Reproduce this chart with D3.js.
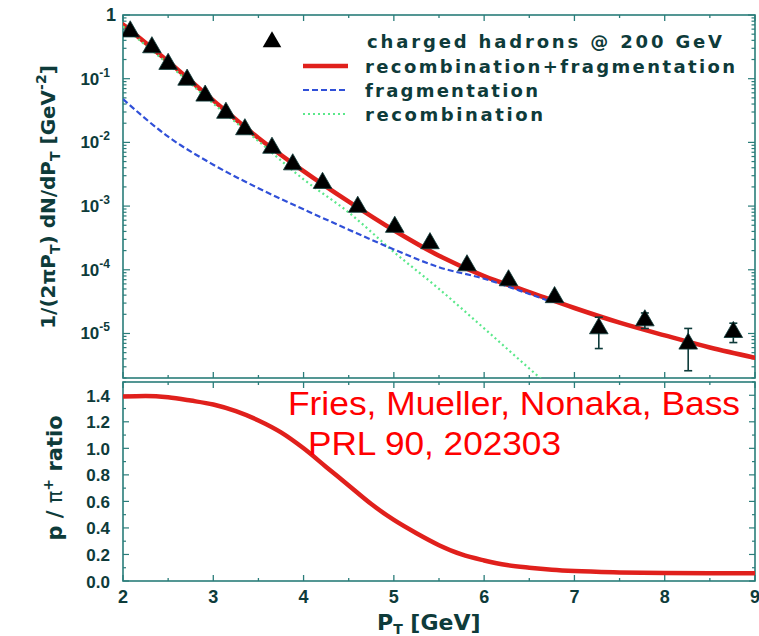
<!DOCTYPE html>
<html>
<head>
<meta charset="utf-8">
<script src="https://cdn.jsdelivr.net/npm/d3@7"></script>
<style>
  html, body { margin: 0; padding: 0; background: #fff; }
  svg { display: block; }
  text { font-family: "Liberation Sans", Arial, Helvetica, sans-serif; }
  .bold { font-family: "DejaVu Sans", "Liberation Sans", sans-serif; font-weight: bold; }
</style>
</head>
<body>
<svg id="chart" width="759" height="636"></svg>
<script>
// Charged hadron spectrum at 200 GeV (data points)
const dataPt   = [2.08, 2.32, 2.50, 2.71, 2.91, 3.14, 3.35, 3.65, 3.88, 4.21, 4.60, 5.01, 5.40, 5.81, 6.27, 6.78, 7.27, 7.78, 8.26, 8.76];
const dataY    = [0.55, 0.31, 0.17, 0.096, 0.054, 0.029, 0.016, 0.0082, 0.0045, 0.0023, 9.7e-4, 4.7e-4, 2.6e-4, 1.17e-4, 6.8e-5, 3.7e-5, 1.2e-5, 1.6e-5, 6.9e-6, 1.05e-5];
const dataErrLo = [null, null, null, null, null, null, null, null, null, null, null, null, null, null, null, null, 5.8e-6, 1.2e-5, 2.6e-6, 7.2e-6];
const dataErrHi = [null, null, null, null, null, null, null, null, null, null, null, null, null, null, null, null, 1.8e-5, 2.1e-5, 1.2e-5, 1.45e-5];

// Model curves (log10 of yield)
const curvePt    = [2.0, 2.5, 3.0, 3.5, 4.0, 4.5, 5.0, 5.5, 6.0, 6.5, 7.0, 7.5, 8.0, 8.5, 9.0];
const totalLog   = [-0.15, -0.73, -1.34, -1.93, -2.45, -2.93, -3.38, -3.78, -4.10, -4.35, -4.60, -4.83, -5.03, -5.22, -5.38];
const fragPt     = [2.0, 2.5, 3.0, 3.5, 4.0, 4.5, 5.0, 5.5, 6.0, 6.5, 6.7];
const fragLog    = [-1.32, -1.91, -2.35, -2.72, -3.05, -3.37, -3.68, -3.96, -4.14, -4.38, -4.48];
const recoPt     = [2.0, 2.5, 3.0, 3.5, 4.0, 4.5, 5.0, 5.5, 6.0, 6.5, 6.7];
const recoLog    = [-0.18, -0.77, -1.39, -1.98, -2.58, -3.10, -3.72, -4.30, -4.92, -5.55, -5.80];

// p / pi+ ratio
const ratioPt  = [2.0, 2.25, 2.5, 2.75, 3.0, 3.25, 3.5, 3.75, 4.0, 4.25, 4.5, 4.75, 5.0, 5.25, 5.5, 5.75, 6.0, 6.25, 6.5, 6.75, 7.0, 7.5, 8.0, 8.5, 9.0];
const ratioVal = [1.39, 1.395, 1.385, 1.36, 1.33, 1.28, 1.21, 1.12, 1.00, 0.86, 0.72, 0.58, 0.46, 0.36, 0.27, 0.20, 0.155, 0.12, 0.10, 0.085, 0.075, 0.065, 0.06, 0.058, 0.058];

// Ticks
const xTicks = [2, 3, 4, 5, 6, 7, 8, 9];
const logTickExp = [0, -1, -2, -3, -4, -5];
const ratioTicks = [0.0, 0.2, 0.4, 0.6, 0.8, 1.0, 1.2, 1.4];

const legendLabels = ["charged hadrons @ 200 GeV", "recombination+fragmentation", "fragmentation", "recombination"];

const AXIS = "#2a7d7a";
const INK = "#0e3b3a";
const RED = "#e0201c";
const BLUE = "#3050d8";
const GREEN = "#5ae88a";

const svg = d3.select("#chart");

const x = d3.scaleLinear().domain([2, 9]).range([123, 755]);
const yTop = d3.scaleLog().domain([2e-6, 1]).range([378, 15]);
const yBot = d3.scaleLinear().domain([0, 1.5]).range([581, 382]);

const topBox = {x0: 123, x1: 755, y0: 15, y1: 378};
const botBox = {x0: 123, x1: 755, y0: 382, y1: 581};

svg.append("defs").append("clipPath").attr("id", "clipTop")
  .append("rect").attr("x", topBox.x0).attr("y", topBox.y0)
  .attr("width", topBox.x1 - topBox.x0).attr("height", topBox.y1 - topBox.y0);
svg.select("defs").append("clipPath").attr("id", "clipBot")
  .append("rect").attr("x", botBox.x0).attr("y", botBox.y0)
  .attr("width", botBox.x1 - botBox.x0).attr("height", botBox.y1 - botBox.y0);

// ---- frames and ticks ----
function frame(b) {
  svg.append("rect").attr("x", b.x0).attr("y", b.y0)
    .attr("width", b.x1 - b.x0).attr("height", b.y1 - b.y0)
    .attr("fill", "none").attr("stroke", AXIS).attr("stroke-width", 1.6);
}
frame(topBox);
frame(botBox);

function xTickMarks(b) {
  const majors = d3.range(2, 9.01, 1);
  const minors = d3.range(2.5, 9, 1);
  const g = svg.append("g").attr("stroke", AXIS).attr("stroke-width", 1.3);
  majors.forEach(v => {
    g.append("line").attr("x1", x(v)).attr("x2", x(v)).attr("y1", b.y1).attr("y2", b.y1 - 6);
    g.append("line").attr("x1", x(v)).attr("x2", x(v)).attr("y1", b.y0).attr("y2", b.y0 + 6);
  });
  minors.forEach(v => {
    g.append("line").attr("x1", x(v)).attr("x2", x(v)).attr("y1", b.y1).attr("y2", b.y1 - 3);
    g.append("line").attr("x1", x(v)).attr("x2", x(v)).attr("y1", b.y0).attr("y2", b.y0 + 3);
  });
}
xTickMarks(topBox);
xTickMarks(botBox);

// log y ticks (top panel)
{
  const g = svg.append("g").attr("stroke", AXIS).attr("stroke-width", 1.2);
  for (let e = -6; e <= 0; e++) {
    for (let m = 1; m <= 9; m++) {
      const v = m * Math.pow(10, e);
      if (v < 2e-6 || v > 1) continue;
      const len = m === 1 ? 7 : 3.5;
      g.append("line").attr("x1", topBox.x0).attr("x2", topBox.x0 + len).attr("y1", yTop(v)).attr("y2", yTop(v));
      g.append("line").attr("x1", topBox.x1).attr("x2", topBox.x1 - len).attr("y1", yTop(v)).attr("y2", yTop(v));
    }
  }
  const lab = svg.append("g").attr("class", "bold").attr("fill", INK);
  logTickExp.forEach(e => {
    const yy = yTop(Math.pow(10, e)) + 6;
    if (e === 0) {
      lab.append("text").attr("x", 116).attr("y", yy).attr("text-anchor", "end")
        .attr("font-size", 18).text("1");
    } else {
      const t = lab.append("text").attr("x", 110).attr("y", yy).attr("text-anchor", "end");
      t.append("tspan").attr("font-size", 17).text("10");
      t.append("tspan").attr("font-size", 12).attr("dy", -8).text(String(e));
    }
  });
}

// linear y ticks (bottom panel)
{
  const g = svg.append("g").attr("stroke", AXIS).attr("stroke-width", 1.2);
  d3.range(0, 1.51, 0.1).forEach((v, i) => {
    const len = i % 2 === 0 ? 6 : 3;
    g.append("line").attr("x1", botBox.x0).attr("x2", botBox.x0 + len).attr("y1", yBot(v)).attr("y2", yBot(v));
    g.append("line").attr("x1", botBox.x1).attr("x2", botBox.x1 - len).attr("y1", yBot(v)).attr("y2", yBot(v));
  });
  const lab = svg.append("g").attr("class", "bold").attr("fill", INK).attr("font-size", 17);
  ratioTicks.forEach(v => {
    lab.append("text").attr("x", 110).attr("y", yBot(v) + 6.5).attr("text-anchor", "end").text(v.toFixed(1));
  });
}

// x tick labels
{
  const lab = svg.append("g").attr("class", "bold").attr("fill", INK).attr("font-size", 18);
  xTicks.forEach(v => {
    lab.append("text").attr("x", x(v)).attr("y", 603).attr("text-anchor", "middle").text(v);
  });
}

// ---- top panel curves ----
const line = d3.line().curve(d3.curveMonotoneX);
const plotTop = svg.append("g").attr("clip-path", "url(#clipTop)");

plotTop.append("path")
  .attr("d", line(curvePt.map((p, i) => [x(p), yTop(Math.pow(10, totalLog[i]))])))
  .attr("fill", "none").attr("stroke", RED).attr("stroke-width", 4.5).attr("stroke-linecap", "round");

plotTop.append("path")
  .attr("d", line(recoPt.map((p, i) => [x(p), yTop(Math.pow(10, recoLog[i]))])))
  .attr("fill", "none").attr("stroke", GREEN).attr("stroke-width", 2.2).attr("stroke-dasharray", "2,3");

plotTop.append("path")
  .attr("d", line(fragPt.map((p, i) => [x(p), yTop(Math.pow(10, fragLog[i]))])))
  .attr("fill", "none").attr("stroke", BLUE).attr("stroke-width", 2.2).attr("stroke-dasharray", "6,3");

// error bars
const errG = plotTop.append("g").attr("stroke", INK).attr("stroke-width", 1.6);
dataPt.forEach((p, i) => {
  if (dataErrLo[i] == null) return;
  const cx = x(p);
  errG.append("line").attr("x1", cx).attr("x2", cx).attr("y1", yTop(dataErrLo[i])).attr("y2", yTop(dataErrHi[i]));
  errG.append("line").attr("x1", cx - 4).attr("x2", cx + 4).attr("y1", yTop(dataErrLo[i])).attr("y2", yTop(dataErrLo[i]));
  errG.append("line").attr("x1", cx - 4).attr("x2", cx + 4).attr("y1", yTop(dataErrHi[i])).attr("y2", yTop(dataErrHi[i]));
});

// data triangles
const tri = d3.symbol().type(d3.symbolTriangle).size(150);
plotTop.append("g").selectAll("path").data(dataPt).join("path")
  .attr("d", tri)
  .attr("transform", (p, i) => `translate(${x(p)},${yTop(dataY[i])})`)
  .attr("fill", "#000").attr("stroke", INK).attr("stroke-width", 0.8);

// ---- legend ----
{
  const lg = svg.append("g");
  const rows = [48, 73, 97, 121];
  const widths = [355, 370, 173, 178];
  lg.append("path").attr("d", tri).attr("transform", "translate(272,42)").attr("fill", "#000");
  lg.append("line").attr("x1", 303).attr("x2", 348).attr("y1", 66).attr("y2", 66)
    .attr("stroke", RED).attr("stroke-width", 4.5);
  lg.append("line").attr("x1", 303).attr("x2", 348).attr("y1", 90).attr("y2", 90)
    .attr("stroke", BLUE).attr("stroke-width", 2.2).attr("stroke-dasharray", "6,3");
  lg.append("line").attr("x1", 303).attr("x2", 348).attr("y1", 114).attr("y2", 114)
    .attr("stroke", GREEN).attr("stroke-width", 2.2).attr("stroke-dasharray", "2,3");
  legendLabels.forEach((s, i) => {
    lg.append("text").attr("class", "bold").attr("x", i === 0 ? 367 : 365).attr("y", rows[i])
      .attr("font-size", 18).attr("fill", INK)
      .attr("textLength", widths[i]).attr("lengthAdjust", "spacing")
      .text(s);
  });
}

// ---- bottom panel ----
const plotBot = svg.append("g").attr("clip-path", "url(#clipBot)");
plotBot.append("path")
  .attr("d", line(ratioPt.map((p, i) => [x(p), yBot(ratioVal[i])])))
  .attr("fill", "none").attr("stroke", RED).attr("stroke-width", 4.5);

svg.append("text").attr("x", 288).attr("y", 415).attr("fill", "#ff0000")
  .attr("font-size", 33).attr("textLength", 452).attr("lengthAdjust", "spacingAndGlyphs")
  .text("Fries, Mueller, Nonaka, Bass");
svg.append("text").attr("x", 308).attr("y", 455).attr("fill", "#ff0000")
  .attr("font-size", 33).attr("textLength", 253).attr("lengthAdjust", "spacingAndGlyphs")
  .text("PRL 90, 202303");

// ---- axis titles ----
{
  const t = svg.append("text").attr("class", "bold")
    .attr("transform", "translate(55,197) rotate(-90)")
    .attr("text-anchor", "middle").attr("font-size", 20).attr("fill", INK);
  t.append("tspan").text("1/(2");
  t.append("tspan").text("π");
  t.append("tspan").text("P");
  t.append("tspan").attr("font-size", 14).attr("dy", 5).text("T");
  t.append("tspan").attr("dy", -5).text(") dN/dP");
  t.append("tspan").attr("font-size", 14).attr("dy", 5).text("T");
  t.append("tspan").attr("dy", -5).text(" [GeV");
  t.append("tspan").attr("font-size", 14).attr("dy", -9).text("-2");
  t.append("tspan").attr("dy", 9).text("]");
}
{
  const t = svg.append("text").attr("class", "bold")
    .attr("transform", "translate(62,478) rotate(-90)")
    .attr("text-anchor", "middle").attr("font-size", 21).attr("fill", INK);
  t.append("tspan").text("p / ");
  t.append("tspan").attr("font-weight", "normal").text("π");
  t.append("tspan").attr("font-size", 14).attr("dy", -9).text("+");
  t.append("tspan").attr("dy", 9).text(" ratio");
}
{
  const t = svg.append("text").attr("class", "bold").attr("x", 377).attr("y", 630)
    .attr("font-size", 22).attr("fill", INK);
  t.append("tspan").text("P");
  t.append("tspan").attr("font-size", 14).attr("dy", 4).text("T");
  t.append("tspan").attr("dy", -4).text(" [GeV]");
}
</script>
</body>
</html>
